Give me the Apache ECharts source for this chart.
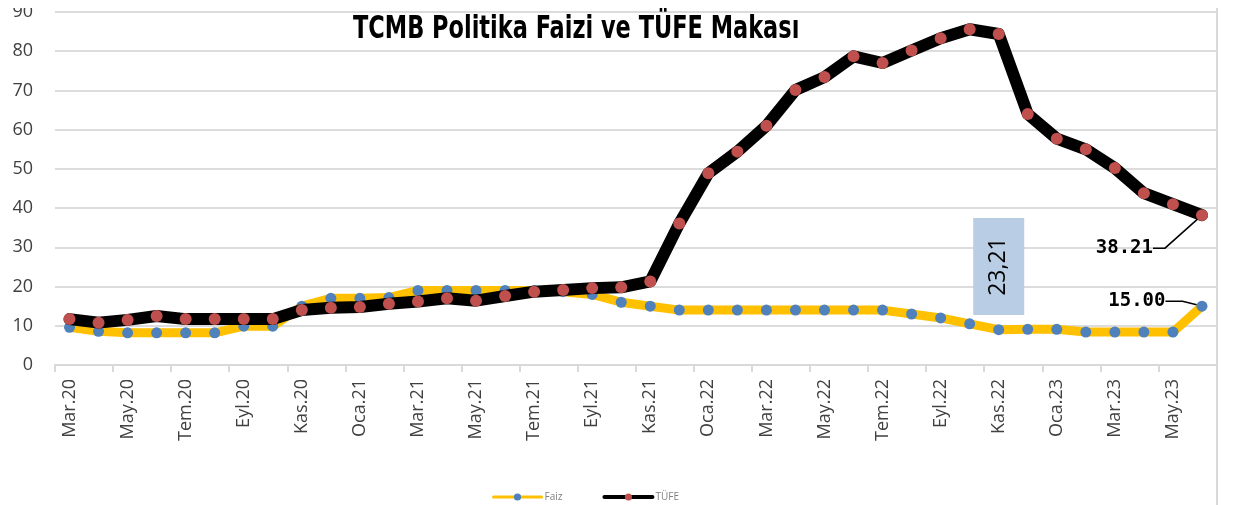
<!DOCTYPE html>
<html><head><meta charset="utf-8">
<script src="https://cdn.jsdelivr.net/npm/echarts@6/dist/echarts.min.js"></script>
<style>html,body{margin:0;padding:0;background:#fff}#c{width:1239px;height:505px}</style>
</head><body><div id="c"></div>
<script>
const months = ['Mar.20','Nis.20','May.20','Haz.20','Tem.20','Ağu.20','Eyl.20','Eki.20','Kas.20','Ara.20',
  'Oca.21','Şub.21','Mar.21','Nis.21','May.21','Haz.21','Tem.21','Ağu.21','Eyl.21','Eki.21','Kas.21','Ara.21',
  'Oca.22','Şub.22','Mar.22','Nis.22','May.22','Haz.22','Tem.22','Ağu.22','Eyl.22','Eki.22','Kas.22','Ara.22',
  'Oca.23','Şub.23','Mar.23','Nis.23','May.23','Haz.23'];
const faiz = [9.6, 8.6, 8.2, 8.2, 8.2, 8.2, 9.9, 9.9, 15.0, 17.0,
  17.0, 17.2, 19.0, 19.0, 19.0, 19.0, 19.0, 18.7, 18.0, 16.0, 15.0, 14.0,
  14.0, 14.0, 14.0, 14.0, 14.0, 14.0, 14.0, 13.0, 12.0, 10.5, 9.0, 9.1,
  9.1, 8.4, 8.4, 8.4, 8.4, 15.0];
const tufe = [11.7, 10.8, 11.5, 12.5, 11.7, 11.7, 11.7, 11.7, 14.0, 14.6,
  14.8, 15.6, 16.2, 17.0, 16.4, 17.6, 18.7, 19.1, 19.6, 19.8, 21.3, 36.1,
  48.9, 54.4, 61.0, 70.1, 73.4, 78.7, 77.0, 80.2, 83.3, 85.6, 84.4, 64.0,
  57.7, 55.0, 50.2, 43.8, 41.0, 38.21];
const seriesNames = ['Faiz', 'TÜFE'];
const titleText = 'TCMB Politika Faizi ve TÜFE Makası';
const gapCategory = 'Kas.22';
const gapBoxValue = 25.1;

const last = tufe.length - 1;
const gapText = (tufe[last] - faiz[last]).toFixed(2).replace('.', ',');

function withEndLabel(arr) {
  return arr.map((v, i) => i === arr.length - 1
    ? { value: v, label: { show: true }, labelLine: { show: true } } : v);
}

const endLabelFont = { fontFamily: 'DejaVu Sans Mono', fontWeight: 'bold', fontSize: 19, color: '#000' };

const chart = echarts.init(document.getElementById('c'), null, { renderer: 'canvas' });
chart.setOption({
  animation: false,
  backgroundColor: '#fff',
  legend: {
    data: [
      { name: seriesNames[0], lineStyle: { width: 3 } },
      { name: seriesNames[1], lineStyle: { width: 4 } }
    ],
    left: 487, top: 487,
    itemWidth: 48, itemHeight: 9, itemGap: 40,
    textStyle: { fontFamily: 'Open Sans', fontSize: 10, color: '#7f7f7f', padding: [0, 0, 0, -2] }
  },
  grid: { left: 55, right: 22.5, top: 12, bottom: 140, containLabel: false },
  xAxis: {
    type: 'category', data: months, boundaryGap: true,
    axisLine: { lineStyle: { color: '#d9d9d9', width: 2 } },
    axisTick: { show: true, interval: 1, length: 7, lineStyle: { color: '#d9d9d9', width: 2 } },
    axisLabel: { interval: 1, rotate: 90, margin: 14, fontFamily: 'Open Sans', fontSize: 18, color: '#404040' },
    splitLine: { show: false }
  },
  yAxis: {
    type: 'value', min: 0, max: 90, interval: 10,
    axisLine: { show: false }, axisTick: { show: false },
    axisLabel: { margin: 22, fontFamily: 'Open Sans', fontSize: 18, color: '#404040' },
    splitLine: { lineStyle: { color: '#dcdcdc', width: 2 } }
  },
  series: [
    {
      name: seriesNames[0], type: 'line', data: withEndLabel(faiz),
      symbol: 'circle', symbolSize: 11, showSymbol: true, showAllSymbol: true,
      lineStyle: { color: '#FFC000', width: 9, join: 'round', cap: 'round' },
      itemStyle: { color: '#4F81BD' },
      label: Object.assign({ show: false, position: 'left', distance: 23, padding: [0, 8, 0, 0], formatter: p => p.value.toFixed(2) }, endLabelFont),
      labelLine: { show: false, length2: 17, lineStyle: { color: '#000', width: 1.5 } },
      labelLayout: p => p.dataIndex === last ? { dy: -5 } : {},
      markPoint: {
        symbol: 'rect', symbolSize: [51, 97],
        itemStyle: { color: '#B9CDE5' },
        label: { show: true, position: 'inside', rotate: 90, formatter: gapText, fontFamily: 'Open Sans', fontSize: 23, color: '#000' },
        data: [{ coord: [gapCategory, gapBoxValue] }]
      },
      z: 2
    },
    {
      name: seriesNames[1], type: 'line', data: withEndLabel(tufe),
      symbol: 'circle', symbolSize: 12, showSymbol: true, showAllSymbol: true,
      lineStyle: { color: '#000', width: 12, join: 'round', cap: 'round' },
      itemStyle: { color: '#C0504D' },
      label: Object.assign({ show: false, position: 'left', distance: 31, padding: [0, 12, 0, 0], formatter: p => p.value.toFixed(2) }, endLabelFont),
      labelLine: { show: false, length2: 12, lineStyle: { color: '#000', width: 1.5 } },
      labelLayout: p => p.dataIndex === last ? { dy: 33 } : {},
      z: 3
    }
  ],
  graphic: [
    { type: 'line', shape: { x1: 1217, y1: 8, x2: 1217, y2: 505 }, style: { stroke: '#d9d9d9', lineWidth: 2 }, z: 0 },
    { type: 'rect', shape: { x: 0, y: 0, width: 50, height: 8 }, style: { fill: '#fff' }, z: 100 },
    { type: 'text', x: 353, y: 30, scaleX: 0.78, z: 100,
      style: { text: titleText, fill: '#000', align: 'left', verticalAlign: 'middle',
        font: 'bold 32px "DejaVu Sans Condensed", "DejaVu Sans", sans-serif' } }
  ]
});
</script>
</body></html>
